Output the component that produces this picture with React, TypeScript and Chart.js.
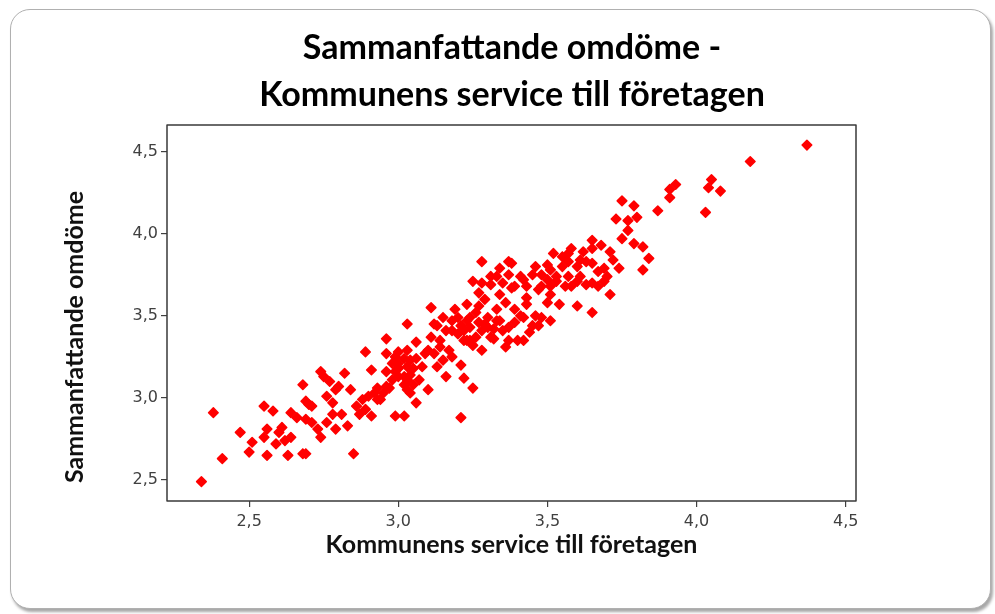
import React, { useEffect, useRef } from "react";
import { Chart, registerables } from "chart.js";

Chart.register(...registerables);

const chartTitle = ["Sammanfattande omdöme -", "Kommunens service till företagen"];
const xAxisTitle = "Kommunens service till företagen";
const yAxisTitle = "Sammanfattande omdöme";

const xTicks = [2.5, 3.0, 3.5, 4.0, 4.5];
const yTicks = [2.5, 3.0, 3.5, 4.0, 4.5];

// x: Kommunens service till företagen
const serviceScores = [
  2.34, 2.38, 2.41, 2.47, 2.50, 2.51, 2.55, 2.56, 2.55, 2.56,
  2.58, 2.59, 2.60, 2.61, 2.62, 2.63, 2.64, 2.64, 2.66, 2.68,
  2.69, 2.68, 2.69, 2.70, 2.71, 2.69, 2.71, 2.73, 2.74, 2.75,
  2.77, 2.74, 2.76, 2.78, 2.76, 2.78, 2.79, 2.79, 2.80, 2.82,
  2.81, 2.83, 2.84, 2.85, 2.86, 2.87, 2.88, 2.89, 2.90, 2.91,
  2.91, 2.92, 2.93, 2.93, 2.95, 2.96, 2.96, 2.96, 2.97, 2.98,
  2.99, 2.99, 3.00, 3.02, 3.00, 3.02, 3.03, 3.03, 3.02, 3.03,
  3.11, 3.12, 3.13, 3.06, 3.04, 3.05, 3.07, 3.06, 3.10, 3.10,
  3.11, 3.14, 3.12, 3.13, 3.16, 3.17, 3.18, 3.19, 3.20, 3.21,
  3.22, 3.22, 3.23, 3.24, 3.25, 3.25, 3.21, 3.26, 3.28, 3.28,
  3.30, 3.31, 3.33, 3.34, 3.35, 3.36, 3.36, 3.37, 3.39, 3.40,
  3.42, 3.43, 3.42, 3.45, 3.46, 3.47, 3.50, 3.51, 3.54, 3.60,
  3.65, 3.28, 3.37, 3.38, 3.25, 3.28, 3.31, 3.31, 3.34, 3.35,
  3.38, 3.29, 3.42, 3.43, 3.46, 3.48, 3.48, 3.50, 3.51, 3.52,
  3.53, 3.55, 3.56, 3.57, 3.57, 3.58, 3.60, 3.61, 3.61, 3.62,
  3.63, 3.65, 3.65, 3.65, 3.65, 3.68, 3.69, 3.69, 3.71, 3.71,
  3.74, 3.73, 3.75, 3.75, 3.77, 3.77, 3.79, 3.79, 3.80, 4.37,
  4.18, 4.05, 4.04, 4.08, 4.03, 3.93, 3.91, 3.91, 3.87, 3.82,
  3.84, 3.82,
  3.18, 3.21, 3.24, 3.27, 3.29, 3.32, 3.26, 3.23, 3.03, 3.00,
  3.04, 3.08, 3.09, 3.15, 3.14, 3.18,
  3.51, 3.55, 3.58, 3.51, 3.45, 3.41, 3.39, 3.33, 3.27,
  2.99, 3.00, 3.03, 2.98, 3.04, 2.89, 2.94,
  3.70, 3.72, 3.67,
  3.20, 3.23, 3.27, 3.30, 3.33, 3.32, 3.22, 3.16, 3.15, 3.24,
  3.39, 3.41, 3.44, 3.37, 3.48,
  3.50, 3.53, 3.57, 3.60, 3.63, 3.67, 3.47, 3.37, 3.34, 3.43,
  2.99, 3.02, 2.96, 3.06, 3.05,
];

// y: Sammanfattande omdöme
const overallScores = [
  2.49, 2.91, 2.63, 2.79, 2.67, 2.73, 2.95, 2.65, 2.76, 2.81,
  2.92, 2.72, 2.79, 2.82, 2.74, 2.65, 2.91, 2.76, 2.88, 2.66,
  2.66, 3.08, 2.98, 2.96, 2.95, 2.87, 2.85, 2.81, 3.16, 3.13,
  3.10, 2.76, 3.01, 2.97, 2.85, 2.90, 2.81, 3.05, 3.07, 3.15,
  2.90, 2.83, 3.05, 2.66, 2.95, 2.90, 2.99, 3.28, 3.01, 2.89,
  3.17, 3.03, 2.99, 3.06, 3.03, 3.36, 3.27, 3.07, 3.06, 3.21,
  3.16, 2.89, 3.28, 2.89, 3.18, 3.13, 3.05, 3.45, 3.24, 3.11,
  3.55, 3.45, 3.44, 3.34, 3.23, 3.18, 3.11, 2.97, 3.05, 3.29,
  3.37, 3.35, 3.27, 3.19, 3.13, 3.29, 3.47, 3.54, 3.39, 3.20,
  3.35, 3.12, 3.57, 3.43, 3.06, 3.32, 2.88, 3.52, 3.29, 3.41,
  3.49, 3.37, 3.54, 3.47, 3.41, 3.31, 3.58, 3.43, 3.54, 3.35,
  3.35, 3.57, 3.49, 3.44, 3.50, 3.44, 3.58, 3.47, 3.57, 3.56,
  3.52, 3.83, 3.83, 3.82, 3.71, 3.70, 3.74, 3.69, 3.63, 3.70,
  3.67, 3.60, 3.72, 3.68, 3.80, 3.75, 3.68, 3.72, 3.63, 3.88,
  3.74, 3.80, 3.68, 3.88, 3.74, 3.91, 3.80, 3.84, 3.74, 3.89,
  3.69, 3.96, 3.91, 3.82, 3.70, 3.93, 3.79, 3.71, 3.89, 3.63,
  3.79, 4.09, 4.20, 3.97, 4.02, 4.08, 3.94, 4.17, 4.10, 4.54,
  4.44, 4.33, 4.28, 4.26, 4.13, 4.30, 4.27, 4.22, 4.14, 3.92,
  3.85, 3.78,
  3.41, 3.44, 3.49, 3.56, 3.45, 3.42, 3.37, 3.35, 3.29, 3.21,
  3.14, 3.19, 3.27, 3.23, 3.31, 3.25,
  3.78, 3.86, 3.68, 3.68, 3.75, 3.74, 3.68, 3.74, 3.64,
  3.25, 3.13, 3.19, 3.11, 3.03, 2.93, 2.99,
  3.74, 3.84, 3.68,
  3.49, 3.47, 3.46, 3.43, 3.47, 3.36, 3.41, 3.41, 3.49, 3.35,
  3.46, 3.50, 3.40, 3.35, 3.49,
  3.81, 3.71, 3.83, 3.71, 3.83, 3.77, 3.66, 3.75, 3.79, 3.61,
  3.22, 3.08, 3.16, 3.24, 3.08,
];

const xMin = 2.2246;
const xMax = 4.5345;
const yMin = 2.372;
const yMax = 4.6627;

const fmt = (v: number) => v.toFixed(1).replace(".", ",");

const framePlugin = {
  id: "plotFrame",
  beforeDatasetsDraw(chart: any) {
    chart.ctx.lineJoin = "round";
  },
  afterDraw(chart: any) {
    const { ctx, chartArea: a } = chart;
    ctx.save();
    ctx.strokeStyle = "#3a3a3a";
    ctx.lineWidth = 1.5;
    ctx.strokeRect(a.left, a.top, a.right - a.left, a.bottom - a.top);
    // y axis title, rotated
    ctx.font = "bold 25px Lato";
    ctx.fillStyle = "#111111";
    ctx.textAlign = "center";
    ctx.textBaseline = "middle";
    ctx.translate(a.left - 92, (a.top + a.bottom) / 2 + 24);
    ctx.rotate(-Math.PI / 2);
    ctx.fillText(yAxisTitle, 0, 0);
    ctx.restore();
  },
};

export default function App() {
  const ref = useRef<HTMLCanvasElement | null>(null);

  useEffect(() => {
    if (!ref.current) return;
    const tickFont = { family: "DejaVu Sans", size: 16 };
    const chart = new Chart(ref.current, {
      type: "scatter",
      data: {
        datasets: [
          {
            data: serviceScores.map((x, i) => ({ x, y: overallScores[i] })),
            pointStyle: "rectRot",
            pointRadius: 4.8,
            pointHoverRadius: 4.8,
            backgroundColor: "#ff0000",
            borderColor: "#ff0000",
            borderWidth: 1.5,
          },
        ],
      },
      options: {
        responsive: false,
        animation: false,
        layout: { padding: { left: 63, right: 34, top: 10, bottom: 54 } },
        plugins: {
          legend: { display: false },
          tooltip: { enabled: false },
          title: {
            display: true,
            text: chartTitle,
            color: "#000000",
            font: { family: "Lato", size: 34, weight: "bold", lineHeight: 1.38 },
            padding: { top: 14.5, bottom: 6.6 },
          },
        },
        scales: {
          x: {
            type: "linear",
            min: xMin,
            max: xMax,
            afterBuildTicks: (s: any) => {
              s.ticks = xTicks.map((v) => ({ value: v }));
            },
            afterFit: (s: any) => {
              s.height = 59;
            },
            ticks: {
              callback: (v: any) => fmt(Number(v)),
              font: tickFont,
              color: "#404040",
              padding: 5,
              autoSkip: false,
              maxRotation: 0,
            },
            grid: {
              display: true,
              drawOnChartArea: false,
              drawTicks: true,
              tickLength: 6,
              color: "#404040",
              lineWidth: 1.2,
            },
            border: { display: false },
            title: {
              display: true,
              text: xAxisTitle,
              color: "#111111",
              font: { family: "Lato", size: 25, weight: "bold" },
              padding: { top: 0, bottom: 0 },
            },
          },
          y: {
            type: "linear",
            min: yMin,
            max: yMax,
            afterBuildTicks: (s: any) => {
              s.ticks = yTicks.map((v) => ({ value: v }));
            },
            afterFit: (s: any) => {
              s.width = 104;
            },
            ticks: {
              callback: (v: any) => fmt(Number(v)),
              font: tickFont,
              color: "#404040",
              padding: 3,
              autoSkip: false,
            },
            grid: {
              display: true,
              drawOnChartArea: false,
              drawTicks: true,
              tickLength: 6,
              color: "#404040",
              lineWidth: 1.2,
            },
            border: { display: false },
            title: { display: false },
          },
          spacer: {
            type: "linear",
            position: "right",
            min: 0,
            max: 1,
            afterFit: (s: any) => {
              s.width = 105;
            },
            ticks: { display: false },
            grid: { display: false },
            border: { display: false },
            title: { display: false },
          },
        },
      },
      plugins: [framePlugin],
    } as any);
    return () => chart.destroy();
  }, []);

  return (
    <div style={{ position: "fixed", left: 0, top: 0, width: 995, height: 614, background: "#ffffff" }}>
      <div
        style={{
          position: "absolute",
          left: 10,
          top: 9,
          width: 981,
          height: 600,
          boxSizing: "border-box",
          border: "1.5px solid #b0b0b0",
          borderRadius: 20,
          boxShadow: "2px 3px 3px rgba(0,0,0,0.35)",
          background: "#ffffff",
        }}
      />
      <canvas ref={ref} width={995} height={614} style={{ position: "absolute", left: 0, top: 0 }} />
    </div>
  );
}
